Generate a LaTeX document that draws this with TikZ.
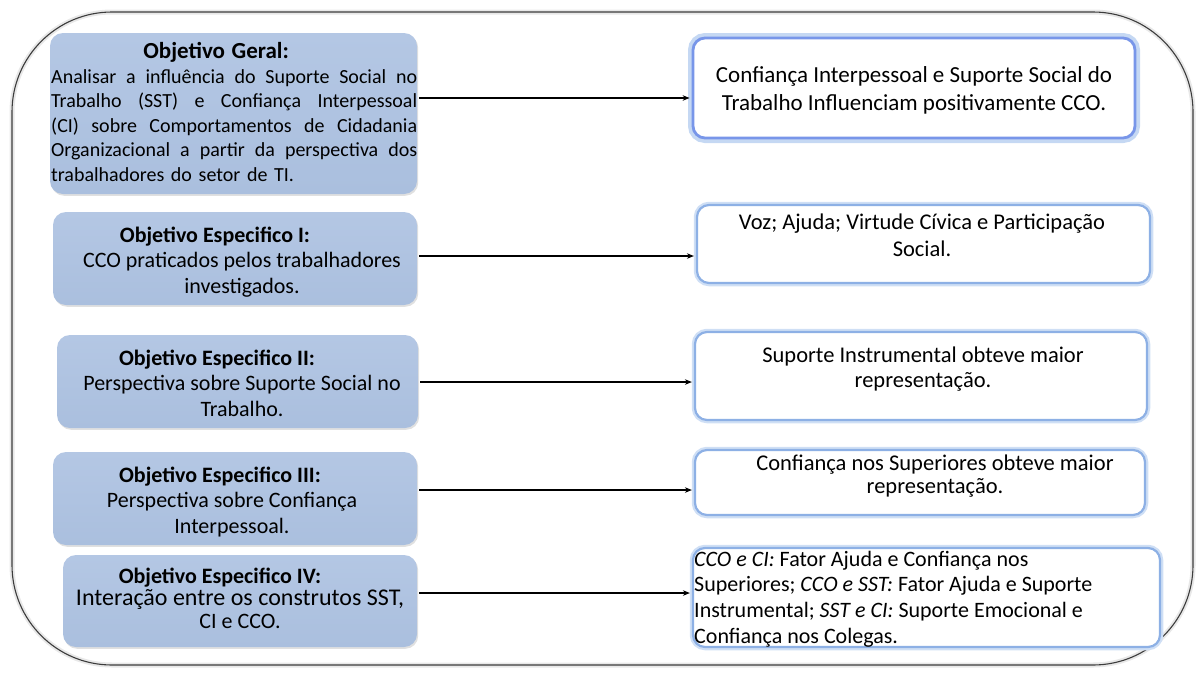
\documentclass[tikz,border=0pt]{standalone}
\usepackage{fontspec}
\setmainfont{Carlito}
\usetikzlibrary{arrows.meta,shadows}

\definecolor{objtop}{HTML}{B4C7E4}
\definecolor{objbot}{HTML}{AABFDE}
\definecolor{resline}{HTML}{8DB0E5}
\definecolor{resglow}{HTML}{CFDFF5}
\definecolor{framecol}{HTML}{3C3C3C}

\tikzset{
  objbox/.style={shape=rectangle, rounded corners=13pt, inner sep=0pt,
    top color=objtop, bottom color=objbot,
    drop shadow={shadow xshift=1.2pt, shadow yshift=-1.8pt, fill=black, opacity=.12}},
  resbox/.style={shape=rectangle, rounded corners=12pt, inner sep=0pt, fill=white,
    draw=resline, line width=2.2pt,
    preaction={draw=resglow, line width=6.5pt}},
  resboxstrong/.style={resbox, draw=resline!85!blue, line width=2.8pt,
    preaction={draw=resglow!85!resline, line width=10pt}},
  objtext/.style={inner sep=0pt, align=center, font=\fontsize{22}{25.5}\selectfont},
  restext/.style={inner sep=0pt, align=center, font=\fontsize{22.5}{27}\selectfont},
  link/.style={-{Stealth[length=7pt,width=5.5pt]}, line width=1.1pt, black,
    shorten <=2pt, shorten >=2pt}
}
% a line stretched to the full width of the general objective text
\newcommand{\fullline}[1]{\makebox[366pt][s]{\spaceskip=.25em plus 1fil\relax #1}}

\begin{document}
\begin{tikzpicture}[x=1pt,y=-1pt]
\useasboundingbox (0,0) rectangle (1198,672);

% outer frame with a soft shadow
\draw[line width=5pt, black!9, rounded corners=100pt] (12,12) rectangle (1193,665);
\draw[line width=1.1pt, framecol, rounded corners=100pt] (12,12) rectangle (1193,665);

% objectives (left column)
\node[objbox, minimum width=367pt, minimum height=161pt] (geral) at (233.5,113.5) {};
\node[objbox, minimum width=364pt, minimum height=93pt] (esp1) at (235,258.5) {};
\node[objbox, minimum width=361pt, minimum height=93pt] (esp2) at (237.5,381.5) {};
\node[objbox, minimum width=364pt, minimum height=93pt] (esp3) at (235,498.5) {};
\node[objbox, minimum width=354pt, minimum height=92pt] (esp4) at (240,601) {};

% results (right column)
\node[resboxstrong, minimum width=442pt, minimum height=100pt] (res1) at (914,88) {};
\node[resbox, minimum width=453pt, minimum height=78pt] (res2) at (923.5,244) {};
\node[resbox, minimum width=452pt, minimum height=88pt] (res3) at (921,376) {};
\node[resbox, minimum width=450pt, minimum height=65pt] (res4) at (920,482.5) {};
\node[resbox, minimum width=467pt, minimum height=99pt] (res5) at (926.5,597.5) {};

% texts of the objectives
\node[anchor=west, inner sep=0pt, text width=366pt, align=left,
      font=\fontsize{20}{24.5}\selectfont] (geralT) at (51,112)
  {\makebox[366pt][c]{\hspace*{-36pt}\fontsize{23}{24.5}\selectfont\bfseries Objetivo Geral:}\\
   \fullline{Analisar a influência do Suporte Social no}\\
   \fullline{Trabalho (SST) e Confiança Interpessoal}\\
   \fullline{(CI) sobre Comportamentos de Cidadania}\\
   \fullline{Organizacional a partir da perspectiva dos}\\
   trabalhadores do setor de TI.};

\node[objtext] (esp1T) at (242,262)
  {\hspace*{-54pt}\textbf{Objetivo Especifico I:}\\
   CCO praticados pelos trabalhadores\\ investigados.};
\node[objtext] (esp2T) at (242,383)
  {\hspace*{-50pt}\textbf{Objetivo Especifico II:}\\
   Perspectiva sobre Suporte Social no\\ Trabalho.};
\node[objtext] (esp3T) at (232,502)
  {\hspace*{-24pt}\textbf{Objetivo Especifico III:}\\
   Perspectiva sobre Confiança\\ Interpessoal.};
\node[objtext, font=\fontsize{22}{22.5}\selectfont] (esp4T) at (240,598)
  {\hspace*{-40pt}\textbf{Objetivo Especifico IV:}\\
   {\fontsize{24}{22.5}\selectfont Interação entre os construtos SST,}\\ CI e CCO.};

% texts of the results
\node[restext, font=\fontsize{23}{28}\selectfont] (res1T) at (914,90)
  {Confiança Interpessoal e Suporte Social do\\ Trabalho Influenciam positivamente CCO.};
\node[restext] (res2T) at (922,235)
  {Voz; Ajuda; Virtude Cívica e Participação\\ Social.};
\node[restext, font=\fontsize{22.5}{25}\selectfont] (res3T) at (923,369)
  {Suporte Instrumental obteve maior\\ representação.};
\node[restext, font=\fontsize{22.5}{23.5}\selectfont] (res4T) at (935,476)
  {Confiança nos Superiores obteve maior\\ representação.};
\node[anchor=west, inner sep=0pt, align=left, font=\fontsize{22}{25.7}\selectfont] (res5T) at (694,599)
  {\textit{CCO e CI:} Fator Ajuda e Confiança nos\\
   Superiores; \textit{CCO e SST:} Fator Ajuda e Suporte\\
   Instrumental; \textit{SST e CI:} Suporte Emocional e\\
   Confiança nos Colegas.};

% connectors
\coordinate (lv1) at (0,98);
\coordinate (lv2) at (0,256);
\coordinate (lv3) at (0,382);
\coordinate (lv4) at (0,490);
\coordinate (lv5) at (0,593);
\draw[link] (geral.east |- lv1) -- (res1.west |- lv1);
\draw[link] (esp1.east |- lv2) -- (res2.west |- lv2);
\draw[link] (esp2.east |- lv3) -- (res3.west |- lv3);
\draw[link] (esp3.east |- lv4) -- (res4.west |- lv4);
\draw[link] (esp4.east |- lv5) -- (res5.west |- lv5);
\end{tikzpicture}
\end{document}
